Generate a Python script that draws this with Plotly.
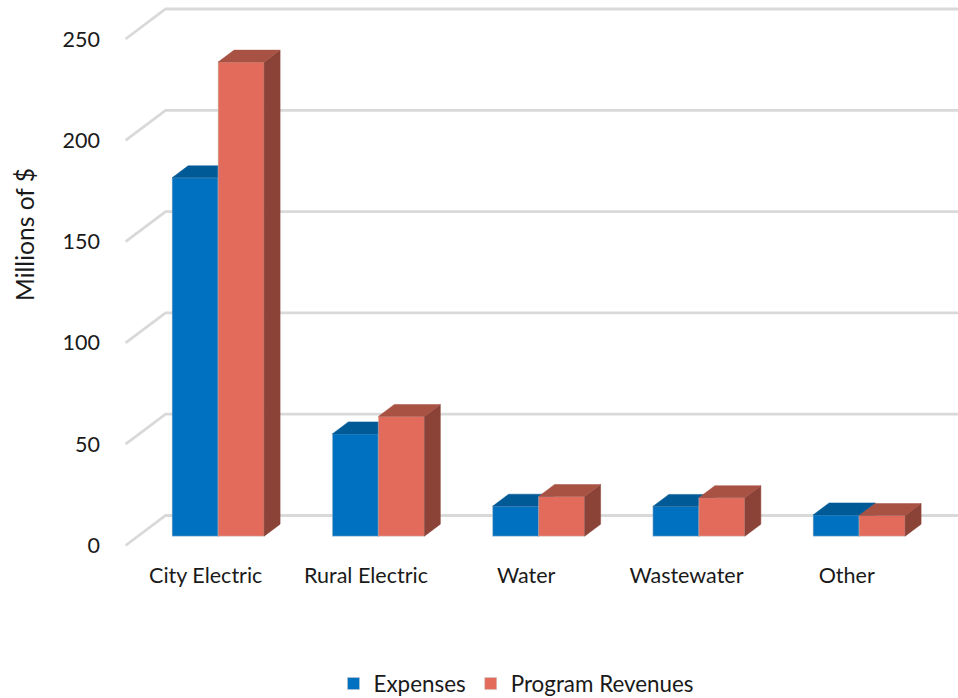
import plotly.graph_objects as go

categories = ["City Electric", "Rural Electric", "Water", "Wastewater", "Other"]
expenses = [176.9, 50.5, 14.8, 14.7, 10.5]
revenues = [234.0, 59.1, 19.6, 19.0, 10.2]
y_ticks = [0, 50, 100, 150, 200, 250]

# oblique projection settings (pixels on the 958x698 page; body margin removed below)
W, H = 958, 698
PLOT_L, PLOT_B = 101, 560
ORIGIN_X, ORIGIN_Y = 205.7, 545.5
PX_PER_CAT, PX_PER_UNIT = 160.25, 2.026
DEPTH_X, DEPTH_Y = 40 / PX_PER_CAT, 30 / PX_PER_UNIT
FRONT, BACK = 0.31, 0.71
BAR_W = 46 / PX_PER_CAT
FONT = "Lato"
TXT = "#1a1a1a"

x_range = [(PLOT_L - ORIGIN_X) / PX_PER_CAT, (W - ORIGIN_X) / PX_PER_CAT]
y_range = [(ORIGIN_Y - PLOT_B) / PX_PER_UNIT, ORIGIN_Y / PX_PER_UNIT]


def proj(x, v, d):
    return x + d * DEPTH_X, v + d * DEPTH_Y


fig = go.Figure()

# back-wall gridlines with left-wall diagonals
gx, gy = [], []
for t in y_ticks:
    for x, d in [(-0.5, 0), (-0.5, 1), (4.6, 1)]:
        px_, py_ = proj(x, t, d)
        gx.append(px_)
        gy.append(py_)
    gx.append(None)
    gy.append(None)
fig.add_trace(go.Scatter(x=gx, y=gy, mode="lines", line=dict(color="#d9d9d9", width=2.8),
                         hoverinfo="skip", showlegend=False, xaxis="x", yaxis="y"))


def add_series(name, values, left_edge, front_c, top_c, side_c, xa, ya):
    xs = [i + left_edge + BAR_W / 2 + FRONT * DEPTH_X for i in range(len(values))]
    fig.add_trace(go.Bar(x=xs, y=values, base=[FRONT * DEPTH_Y] * len(values), width=BAR_W,
                         name=name, marker=dict(color=front_c, line=dict(color="rgba(205,205,205,0.6)", width=0.8)),
                         customdata=categories, hovertemplate="%{customdata}: %{y}<extra>" + name + "</extra>",
                         xaxis=xa, yaxis=ya))
    tx, ty, sx, sy = [], [], [], []
    for i, v in enumerate(values):
        l = i + left_edge
        r = l + BAR_W
        for x, d in [(l, FRONT), (r, FRONT), (r, BACK), (l, BACK), (l, FRONT)]:
            a, b = proj(x, v, d)
            tx.append(a); ty.append(b)
        tx.append(None); ty.append(None)
        for val, d in [(0, FRONT), (v, FRONT), (v, BACK), (0, BACK), (0, FRONT)]:
            a, b = proj(r, val, d)
            sx.append(a); sy.append(b)
        sx.append(None); sy.append(None)
    for px_, py_, c in [(sx, sy, side_c), (tx, ty, top_c)]:
        fig.add_trace(go.Scatter(x=px_, y=py_, mode="lines", fill="toself", fillcolor=c,
                                 line=dict(color=c, width=0.5), hoverinfo="skip",
                                 showlegend=False, xaxis=xa, yaxis=ya))


add_series("Expenses", expenses, -BAR_W, "#0070c0", "#005a96", "#00508a", "x2", "y2")
add_series("Program Revenues", revenues, 0, "#e26b5b", "#a85244", "#8b4237", "x3", "y3")

hidden = dict(visible=False, range=x_range, fixedrange=True)
hidden_y = dict(visible=False, range=y_range, fixedrange=True)
fig.update_layout(
    width=W, height=H, autosize=False,
    margin=dict(l=PLOT_L, r=0, t=0, b=H - PLOT_B, pad=0),
    paper_bgcolor="white", plot_bgcolor="white",
    barmode="overlay",
    font=dict(family=FONT, size=21.5, color=TXT),
    xaxis=dict(range=x_range, tickmode="array", tickvals=list(range(len(categories))),
               ticktext=categories, showgrid=False, zeroline=False, showline=False,
               ticks="", fixedrange=True),
    yaxis=dict(range=y_range, tickmode="array", tickvals=y_ticks, showgrid=False,
               zeroline=False, showline=False, ticks="", fixedrange=True),
    xaxis2=dict(overlaying="x", **hidden),
    yaxis2=dict(overlaying="y", **hidden_y),
    xaxis3=dict(overlaying="x", **hidden),
    yaxis3=dict(overlaying="y", **hidden_y),
    legend=dict(orientation="h", xref="container", yref="container",
                xanchor="center", yanchor="middle",
                x=516.5 / W, y=(H - 684) / H,
                font=dict(family=FONT, size=22.4, color=TXT), bgcolor="rgba(0,0,0,0)"),
    annotations=[dict(text="Millions of $", textangle=-90, xref="paper", yref="paper",
                      x=(25 - PLOT_L) / (W - PLOT_L), y=(PLOT_B - 235) / PLOT_B,
                      showarrow=False, xanchor="center", yanchor="middle",
                      font=dict(family=FONT, size=24.6, color=TXT))],
)

fig.write_html("out.html", config=dict(displayModeBar=False),
               post_script="document.body.style.margin='0';")
